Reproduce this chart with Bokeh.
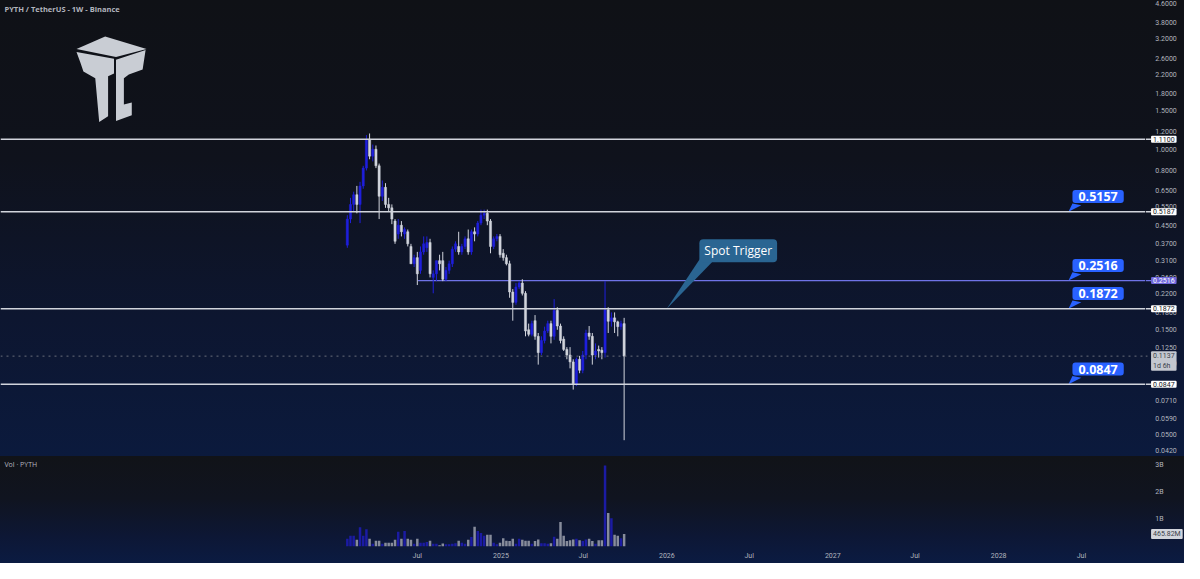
import math
import pandas as pd
from bokeh.plotting import figure
from bokeh.layouts import column, row
from bokeh.models import Range1d, FixedTicker, Span, Label
from bokeh.core.properties import value
from bokeh.embed import file_html
from bokeh.resources import INLINE

# ---------------- data ----------------
week_start = "2024-01-29"
opens = [0.365, 0.48, 0.56, 0.62, 0.56, 0.68, 0.82, 1.11, 0.93, 1.00,
         0.84, 0.61, 0.67, 0.56, 0.54, 0.47, 0.41, 0.45, 0.41, 0.42,
         0.36, 0.30, 0.32, 0.28, 0.34, 0.355, 0.375, 0.26, 0.27, 0.31,
         0.31, 0.255, 0.28, 0.30, 0.35, 0.36, 0.34, 0.36, 0.39, 0.34,
         0.42, 0.41, 0.46, 0.50, 0.51, 0.47, 0.36, 0.39, 0.40, 0.335,
         0.32, 0.30, 0.223, 0.20, 0.235, 0.245, 0.22, 0.15, 0.143, 0.165,
         0.14, 0.118, 0.134, 0.148, 0.16, 0.14, 0.184, 0.156, 0.136, 0.122,
         0.115, 0.107, 0.085, 0.11, 0.098, 0.115, 0.145, 0.14, 0.115, 0.122,
         0.121, 0.118, 0.185, 0.164, 0.17, 0.163, 0.155, 0.16]
highs = [0.50, 0.60, 0.64, 0.68, 0.71, 0.84, 1.16, 1.18, 1.05, 1.04,
         0.86, 0.72, 0.70, 0.60, 0.56, 0.48, 0.48, 0.47, 0.44, 0.43,
         0.37, 0.33, 0.34, 0.36, 0.40, 0.40, 0.39, 0.28, 0.31, 0.33,
         0.34, 0.29, 0.31, 0.36, 0.38, 0.42, 0.37, 0.40, 0.43, 0.43,
         0.44, 0.47, 0.53, 0.53, 0.53, 0.48, 0.40, 0.41, 0.41, 0.35,
         0.33, 0.31, 0.23, 0.245, 0.25, 0.255, 0.225, 0.16, 0.165, 0.175,
         0.145, 0.14, 0.155, 0.165, 0.165, 0.207, 0.19, 0.16, 0.14, 0.125,
         0.125, 0.11, 0.112, 0.114, 0.12, 0.15, 0.156, 0.145, 0.13, 0.127,
         0.125, 0.25, 0.19, 0.18, 0.18, 0.165, 0.165, 0.17]
lows = [0.355, 0.46, 0.52, 0.51, 0.46, 0.66, 0.80, 0.90, 0.88, 0.82,
        0.48, 0.58, 0.54, 0.52, 0.455, 0.37, 0.39, 0.40, 0.39, 0.36,
        0.30, 0.29, 0.24, 0.27, 0.33, 0.34, 0.26, 0.22, 0.25, 0.28,
        0.25, 0.25, 0.27, 0.29, 0.34, 0.33, 0.33, 0.35, 0.33, 0.33,
        0.38, 0.40, 0.45, 0.48, 0.45, 0.335, 0.35, 0.38, 0.32, 0.31,
        0.295, 0.21, 0.165, 0.195, 0.23, 0.215, 0.14, 0.14, 0.14, 0.135,
        0.104, 0.115, 0.13, 0.145, 0.13, 0.135, 0.15, 0.13, 0.12, 0.11,
        0.10, 0.080, 0.083, 0.095, 0.095, 0.11, 0.135, 0.104, 0.11, 0.112,
        0.11, 0.112, 0.145, 0.155, 0.145, 0.14, 0.15, 0.047]
closes = [0.48, 0.56, 0.62, 0.56, 0.68, 0.82, 1.11, 0.93, 1.00, 0.84,
          0.61, 0.67, 0.56, 0.54, 0.48, 0.38, 0.45, 0.42, 0.43, 0.37,
          0.30, 0.32, 0.27, 0.34, 0.37, 0.375, 0.27, 0.27, 0.31, 0.30,
          0.255, 0.28, 0.30, 0.35, 0.37, 0.34, 0.36, 0.39, 0.34, 0.42,
          0.41, 0.46, 0.50, 0.51, 0.47, 0.36, 0.39, 0.40, 0.33, 0.32,
          0.30, 0.223, 0.20, 0.235, 0.245, 0.22, 0.148, 0.143, 0.16, 0.14,
          0.118, 0.134, 0.148, 0.16, 0.14, 0.184, 0.156, 0.134, 0.122, 0.115,
          0.107, 0.085, 0.11, 0.098, 0.115, 0.145, 0.14, 0.115, 0.12, 0.12,
          0.118, 0.185, 0.164, 0.17, 0.163, 0.155, 0.16, 0.1137]
volume_m = [290, 400, 400, 250, 710, 400, 640, 290, 100, 210,
            210, 100, 140, 140, 140, 250, 540, 290, 570, 290,
            250, 100, 290, 140, 140, 170, 210, 100, 100, 50,
            110, 80, 80, 100, 120, 210, 140, 100, 250, 350,
            730, 570, 500, 400, 430, 430, 140, 80, 140, 300,
            210, 200, 290, 100, 290, 250, 210, 210, 100, 200,
            260, 120, 120, 100, 120, 360, 290, 900, 400, 200,
            230, 260, 290, 230, 200, 260, 290, 200, 100, 230,
            230, 2990, 1240, 1040, 430, 400, 300, 465.82]

level_prices = [1.11, 0.5187, 0.1872, 0.0847]
level_texts = ["1.1100", "0.5187", "0.1872", "0.0847"]
trigger_price = 0.2516
trigger_text = "0.2516"
callout_texts = ["0.5157", "0.2516", "0.1872", "0.0847"]
callout_levels = [0.5187, 0.2516, 0.1872, 0.0847]
last_price = 0.1137
countdown = "1d 6h"
price_ticks = [4.6, 3.8, 3.2, 2.6, 2.2, 1.8, 1.5, 1.2, 1.0, 0.8, 0.65, 0.55, 0.45,
               0.37, 0.31, 0.26, 0.22, 0.18, 0.15, 0.125, 0.105, 0.085, 0.071,
               0.059, 0.05, 0.042]
time_ticks = ["2024-07-01", "2025-01-01", "2025-07-01", "2026-01-01", "2026-07-01",
              "2027-01-01", "2027-07-01", "2028-01-01", "2028-07-01"]
time_tick_labels = ["Jul", "2025", "Jul", "2026", "Jul", "2027", "Jul", "2028", "Jul"]
vol_ticks = [1000, 2000, 3000]
vol_tick_labels = ["1B", "2B", "3B"]

# ---------------- layout helpers ----------------
W, H = 1184, 563
SY = H / 579.0
HP = round(469 * SY)
HV = H - HP
FW = round(1160 * W / 1200.0)
RB = W - FW
VB = HV - round(93 * SY)

def ms(d):
    return pd.Timestamp(d).value / 1e6

X_START = ms("2021-12-27")
X_END = X_START + 2519 * 86400000.0
P_TOP, P_BOT = 4.772, 0.0396
LT, LB = math.log(P_TOP), math.log(P_BOT)
V_TOP = 93 / 28.0 * 1000

def X(xr):
    return X_START + xr / 1160.0 * (X_END - X_START)

def PY(yr):
    return math.exp(LT - yr / 469.0 * (LT - LB))

def RY(p):
    return (LT - math.log(p)) / (LT - LB) * 469.0

def VY(yr):
    return (562 - yr) / 28.0 * 1000

FONT = "Open Sans"
AXFONT = "Roboto"
UP = "#1f1fdc"
DOWN = "#d1d4dc"
VUP = "#1b1ba3"
VDOWN = "#878c9b"
TXT = "#b2b5be"
PRICE_BG = "linear-gradient(180deg, #0f1116 0%, #0f121c 35%, #0d1630 70%, #0b1a3d 100%)"
VOL_BG = "linear-gradient(180deg, #111318 0%, #101420 40%, #0d1735 75%, #0b1b42 100%)"

dates = [ms(d) for d in pd.date_range(week_start, periods=len(closes), freq="7D")]
week = 7 * 86400000.0
up = [c >= o for o, c in zip(opens, closes)]
colors = [UP if u else DOWN for u in up]
vcolors = [VUP if u else VDOWN for u in up]
tops = [max(o, c) for o, c in zip(opens, closes)]
bots = [min(o, c) for o, c in zip(opens, closes)]

x_range = Range1d(X_START, X_END)
price_range = Range1d(P_BOT, P_TOP)
vol_range = Range1d(0, V_TOP)


def clean(fig, bg):
    fig.background_fill_color = None
    fig.border_fill_color = None
    fig.outline_line_color = None
    fig.grid.visible = False
    fig.styles = {"background": bg}


def style_axis(a, standoff):
    a.axis_line_color = None
    a.major_tick_line_color = None
    a.minor_tick_line_color = None
    a.major_tick_out = 0
    a.major_tick_in = 0
    a.minor_tick_out = 0
    a.minor_tick_in = 0
    a.major_label_text_color = TXT
    a.major_label_text_font = AXFONT
    a.major_label_text_font_size = "7px"
    a.major_label_standoff = standoff


def box(y, text, bg, fg, baseline="middle", y_offset=0):
    return Label(x=RB * 5.7 / 40.0, y=y, text=text, text_align="left", text_baseline=baseline,
                 y_offset=y_offset, text_font=AXFONT, text_font_size="7px", text_color=fg,
                 background_fill_color=bg, padding=dict(x=2, y=1), border_radius=1)


# ---------------- price panel ----------------
p = figure(width=FW, height=HP, x_axis_type="datetime", y_axis_type="log",
           x_range=x_range, y_range=price_range,
           output_backend="svg", toolbar_location=None,
           y_axis_location=None, x_axis_location=None, min_border=0)
clean(p, PRICE_BG)

# logo
logo_parts = [
    [(77, 50), (106, 37), (148, 50), (117, 58)],
    [(77, 53), (115, 60), (115, 75), (109, 78), (109, 119), (100, 125), (96, 80), (84, 73), (81, 64)],
    [(117, 61), (147, 51), (144, 71), (130, 76), (125, 80), (125, 107), (133, 105), (133, 118), (117, 124)],
]
p.patches(xs=[[X(a) for a, b in part] for part in logo_parts],
          ys=[[PY(b) for a, b in part] for part in logo_parts],
          fill_color="#c9cdd4", line_color=None)

# level lines
for lv in level_prices:
    p.add_layout(Span(location=lv, dimension="width", line_color="#d1d4dc", line_width=1.5))
p.segment(x0=[X(423)], y0=[trigger_price], x1=[X_END], y1=[trigger_price],
          line_color="#6f73e6", line_width=1.2)
p.add_layout(Span(location=last_price, dimension="width", line_color="#6a6e7a",
                  line_width=1, line_dash="dotted"))

# candles
p.segment(x0=dates, y0=lows, x1=dates, y1=highs, line_color=colors, line_width=1)
p.vbar(x=dates, top=tops, bottom=bots, width=0.68 * week,
       fill_color=colors, line_color=colors, line_width=0.5)

# spot trigger callout
p.patch(x=[X(709), X(722), X(675)], y=[PY(265), PY(268), PY(317)],
        fill_color="#2a6592", line_color=None)
p.add_layout(Label(x=X(708), y=PY(257.5), text="Spot Trigger", text_align="left",
                   text_baseline="middle", text_font=FONT, text_font_size="12px",
                   text_color="#ffffff", background_fill_color="#2a6592",
                   padding=dict(x=5, y=3), border_radius=4))

# blue value callouts
for txt, lv in zip(callout_texts, callout_levels):
    yl = RY(lv)
    yc = yl - 15.5
    p.patch(x=[X(1086), X(1095), X(1082)], y=[PY(yc + 7), PY(yc + 9), PY(yl)],
            fill_color="#2962ff", line_color=None)
    p.add_layout(Label(x=X(1086), y=PY(yc), text=txt, text_align="left",
                       text_baseline="middle", text_font=FONT, text_font_size="12.5px",
                       text_font_style="bold", text_color="#ffffff",
                       background_fill_color="#2962ff", padding=dict(x=6, y=2),
                       border_radius=3))

p.add_layout(Label(x=X(4), y=PY(9), text="PYTH / TetherUS - 1W - Binance", text_align="left",
                   text_baseline="middle", text_font=FONT, text_font_size="7.5px",
                   text_font_style="bold", text_color=TXT))

# ---------------- price scale strip (right) ----------------
ps = figure(width=RB, height=HP, y_axis_type="log", x_range=Range1d(0, RB), y_range=price_range,
            output_backend="svg", toolbar_location=None,
            x_axis_location=None, y_axis_location=None, min_border=0)
clean(ps, PRICE_BG)
lab_x = RB * 10.0 / 40.0
ps.text(x=[lab_x] * len(price_ticks), y=price_ticks, text=["%.4f" % t for t in price_ticks],
        text_font=value(AXFONT), text_font_size="7px", text_color=TXT,
        text_align="left", text_baseline="middle")
stub = RB * 6.0 / 40.0
ps.segment(x0=[0] * len(level_prices), y0=level_prices, x1=[stub] * len(level_prices),
           y1=level_prices, line_color="#d1d4dc", line_width=1.5)
ps.segment(x0=[0], y0=[trigger_price], x1=[stub], y1=[trigger_price],
           line_color="#6f73e6", line_width=1.2)
ps.segment(x0=[0], y0=[last_price], x1=[stub], y1=[last_price],
           line_color="#6a6e7a", line_width=1, line_dash="dotted")
for lv, txt in zip(level_prices, level_texts):
    ps.add_layout(box(lv, txt, "#ffffff", "#131722"))
ps.add_layout(box(trigger_price, trigger_text, "#7068dc", "#ffffff"))
ps.add_layout(box(last_price, "%.4f\n%s" % (last_price, countdown), "#c3c7cf", "#3b3f4a",
                  baseline="top", y_offset=5))

# ---------------- volume panel ----------------
v = figure(width=FW, height=HV, x_axis_type="datetime", x_range=x_range,
           y_range=vol_range, output_backend="svg", toolbar_location=None,
           y_axis_location=None, min_border=0, min_border_bottom=VB)
clean(v, VOL_BG)

v.vbar(x=dates, top=volume_m, bottom=0, width=0.78 * week, fill_color=vcolors, line_color=None)

xa = v.xaxis[0]
tick_ms = [ms(d) for d in time_ticks]
xa.ticker = FixedTicker(ticks=tick_ms)
xa.major_label_overrides = {t: lab for t, lab in zip(tick_ms, time_tick_labels)}
style_axis(xa, 5)

v.add_layout(Label(x=X(4), y=VY(477), text="Vol · PYTH", text_align="left",
                   text_baseline="middle", text_font=FONT, text_font_size="7px",
                   text_color=TXT))

# ---------------- volume scale strip ----------------
vs = figure(width=RB, height=HV, x_range=Range1d(0, RB), y_range=vol_range,
            output_backend="svg", toolbar_location=None,
            x_axis_location=None, y_axis_location=None, min_border=0, min_border_bottom=VB)
clean(vs, VOL_BG)
vs.text(x=[lab_x] * len(vol_ticks), y=vol_ticks, text=vol_tick_labels,
        text_font=value(AXFONT), text_font_size="7px", text_color=TXT,
        text_align="left", text_baseline="middle")
vs.add_layout(box(volume_m[-1], "%.2fM" % volume_m[-1], "#d1d4dc", "#3b3f4a"))

layout = column(row(p, ps, spacing=0), row(v, vs, spacing=0), spacing=0)
open("out.html", "w").write(file_html(layout, INLINE))
